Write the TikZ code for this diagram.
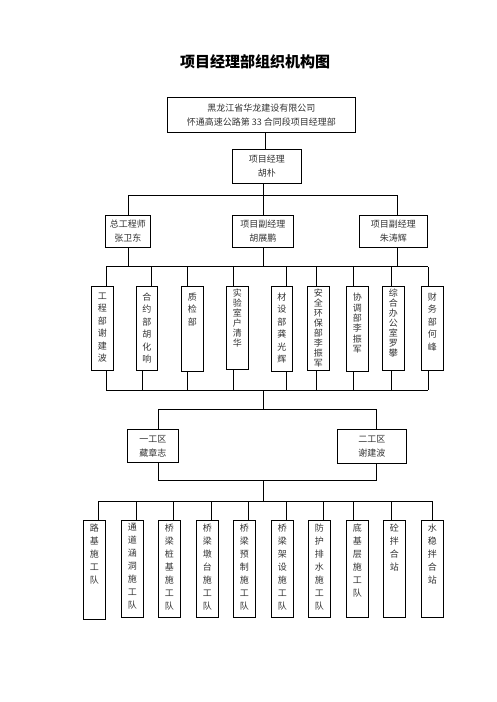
\documentclass[tikz,border=0pt]{standalone}
\usepackage{fontspec}
\newfontfamily\cjk{Noto Sans CJK SC}
\begin{document}
\begin{tikzpicture}[x=1pt,y=-1pt,
  box/.style={draw, line width=0.8pt, inner sep=0pt, anchor=north west, align=center,
    font=\cjk\fontsize{9}{14}\selectfont, text=black!80},
  ln/.style={line width=0.8pt},
  vt/.style={font=\cjk\fontsize{9}{12.5}\selectfont, text=black!80, align=center, inner sep=0pt, anchor=north, yshift=-6.5pt},
  vtt/.style={font=\cjk\fontsize{9}{10}\selectfont, text=black!80, align=center, inner sep=0pt, anchor=north, yshift=-2.5pt},
  vtm/.style={font=\cjk\fontsize{9}{10.4}\selectfont, text=black!80, align=center, inner sep=0pt, anchor=north, yshift=-7pt},
  vtb/.style={font=\cjk\fontsize{9}{13}\selectfont, text=black!80, align=center, inner sep=0pt, anchor=north, yshift=-3.5pt}]
\useasboundingbox (0,0) rectangle (496,702);
\node[font=\cjk\bfseries\fontsize{15}{15}\selectfont] (title) at (255,62) {项目经理部组织机构图};
% top
\node[box, minimum width=188pt, minimum height=35pt] (co) at (167,97) {黑龙江省华龙建设有限公司\\怀通高速公路第 33 合同段项目经理部};
\node[box, minimum width=69pt, minimum height=34pt] (mgr) at (232,149) {项目经理\\胡朴};
\draw[ln] ([xshift=4pt]co.south) -- ([xshift=4pt]co.south |- mgr.north);
% level 2
\node[box, minimum width=45pt, minimum height=32pt] (L) at (105,215) {总工程师\\张卫东};
\node[box, minimum width=61pt, minimum height=32pt] (M) at (232,215) {项目副经理\\胡展鹏};
\node[box, minimum width=68pt, minimum height=32pt] (R) at (359,215) {项目副经理\\朱涛辉};
\coordinate (bus0) at (0,195);
\coordinate (bus1) at (0,266.5);
\coordinate (bus2) at (0,390);
\coordinate (bus3) at (0,409);
\coordinate (bus4) at (0,480);
\coordinate (bus5) at (0,501);
\draw[ln] (M.north |- mgr.south) -- (M.north);
\draw[ln] (L.north) -- (L.north |- bus0) -- ([xshift=4pt]R.north |- bus0) -- ([xshift=4pt]R.north);
% departments
\foreach \n/\x/\w/\h/\st/\t in {
  d1/91/22/84/vt/工\\程\\部\\谢\\建\\波,
  d2/136/21/84/vt/合\\约\\部\\胡\\化\\响,
  d3/181/22/85/vt/质\\检\\部,
  d4/226/22/83/vtt/实\\验\\室\\户\\清\\华,
  d5/271/21/85/vt/材\\设\\部\\龚\\光\\辉,
  d6/307/22/84/vtt/安\\全\\环\\保\\部\\李\\振\\军,
  d7/346/22/85/vtm/协\\调\\部\\李\\振\\军,
  d8/382/22/84/vtt/综\\合\\办\\公\\室\\罗\\攀,
  d9/421/22/84/vt/财\\务\\部\\何\\峰}{
  \node[box, minimum width=\w pt, minimum height=\h pt] (\n) at (\x,286) {};
  \node[\st] (\n t) at (\n.north) {\t};
}
\draw[ln] (L.south) -- (L.south |- bus1);
\draw[ln] (M.south) -- (M.south |- bus1);
\draw[ln] ([xshift=4pt]R.south) -- ([xshift=4pt]R.south |- bus1);
\draw[ln] ([xshift=15pt]d1.north west |- bus1) -- ([xshift=7pt]d9.north west |- bus1);
\foreach \n/\o in {d1/15,d2/15,d3/6,d4/7,d5/15,d6/9,d7/7,d8/9,d9/7}{
  \draw[ln] ([xshift=\o pt]\n.north west) -- ([xshift=\o pt]\n.north west |- bus1);
}
\foreach \n/\o in {d1/15,d2/6,d3/6,d4/7,d5/15,d6/9,d7/7,d8/9,d9/7}{
  \draw[ln] ([xshift=\o pt]\n.south west) -- ([xshift=\o pt]\n.south west |- bus2);
}
\draw[ln] ([xshift=15pt]d1.south west |- bus2) -- ([xshift=7pt]d9.south west |- bus2);
% areas
\node[box, minimum width=51pt, minimum height=33pt] (A1) at (127,429) {一工区\\藏章志};
\node[box, minimum width=69pt, minimum height=34pt] (A2) at (337,429) {二工区\\谢建波};
\draw[ln] (M.south |- bus2) -- (M.south |- bus3);
\draw[ln] ([xshift=5.5pt]A1.north) -- ([xshift=5.5pt]A1.north |- bus3) -- ([xshift=4.5pt]A2.north |- bus3) -- ([xshift=4.5pt]A2.north);
\draw[ln] ([xshift=5.5pt]A1.south) -- ([xshift=5.5pt]A1.south |- bus4) -- ([xshift=4.5pt]A2.south |- bus4) -- ([xshift=4.5pt]A2.south);
\draw[ln] (M.south |- bus4) -- (M.south |- bus5);
% teams
\foreach \n/\x/\h/\o/\t in {
  t1/83/99/15/路\\基\\施\\工\\队,
  t2/121/97/15/通\\道\\涵\\洞\\施\\工\\队,
  t3/158/97/15/桥\\梁\\桩\\基\\施\\工\\队,
  t4/196/97/15/桥\\梁\\墩\\台\\施\\工\\队,
  t5/233/97/15/桥\\梁\\预\\制\\施\\工\\队,
  t6/271/97/15/桥\\梁\\架\\设\\施\\工\\队,
  t7/308/97/15/防\\护\\排\\水\\施\\工\\队,
  t8/346/97/7/底\\基\\层\\施\\工\\队,
  t9/383/97/8/砼\\拌\\合\\站,
  t10/421/97/11/水\\稳\\拌\\合\\站}{
  \node[box, minimum width=22pt, minimum height=\h pt] (\n) at (\x,520) {};
  \node[vtb] (\n t) at (\n.north) {\t};
  \draw[ln] ([xshift=\o pt]\n.north west) -- ([xshift=\o pt]\n.north west |- bus5);
}
\draw[ln] ([xshift=15pt]t1.north west |- bus5) -- ([xshift=11pt]t10.north west |- bus5);
\end{tikzpicture}
\end{document}
